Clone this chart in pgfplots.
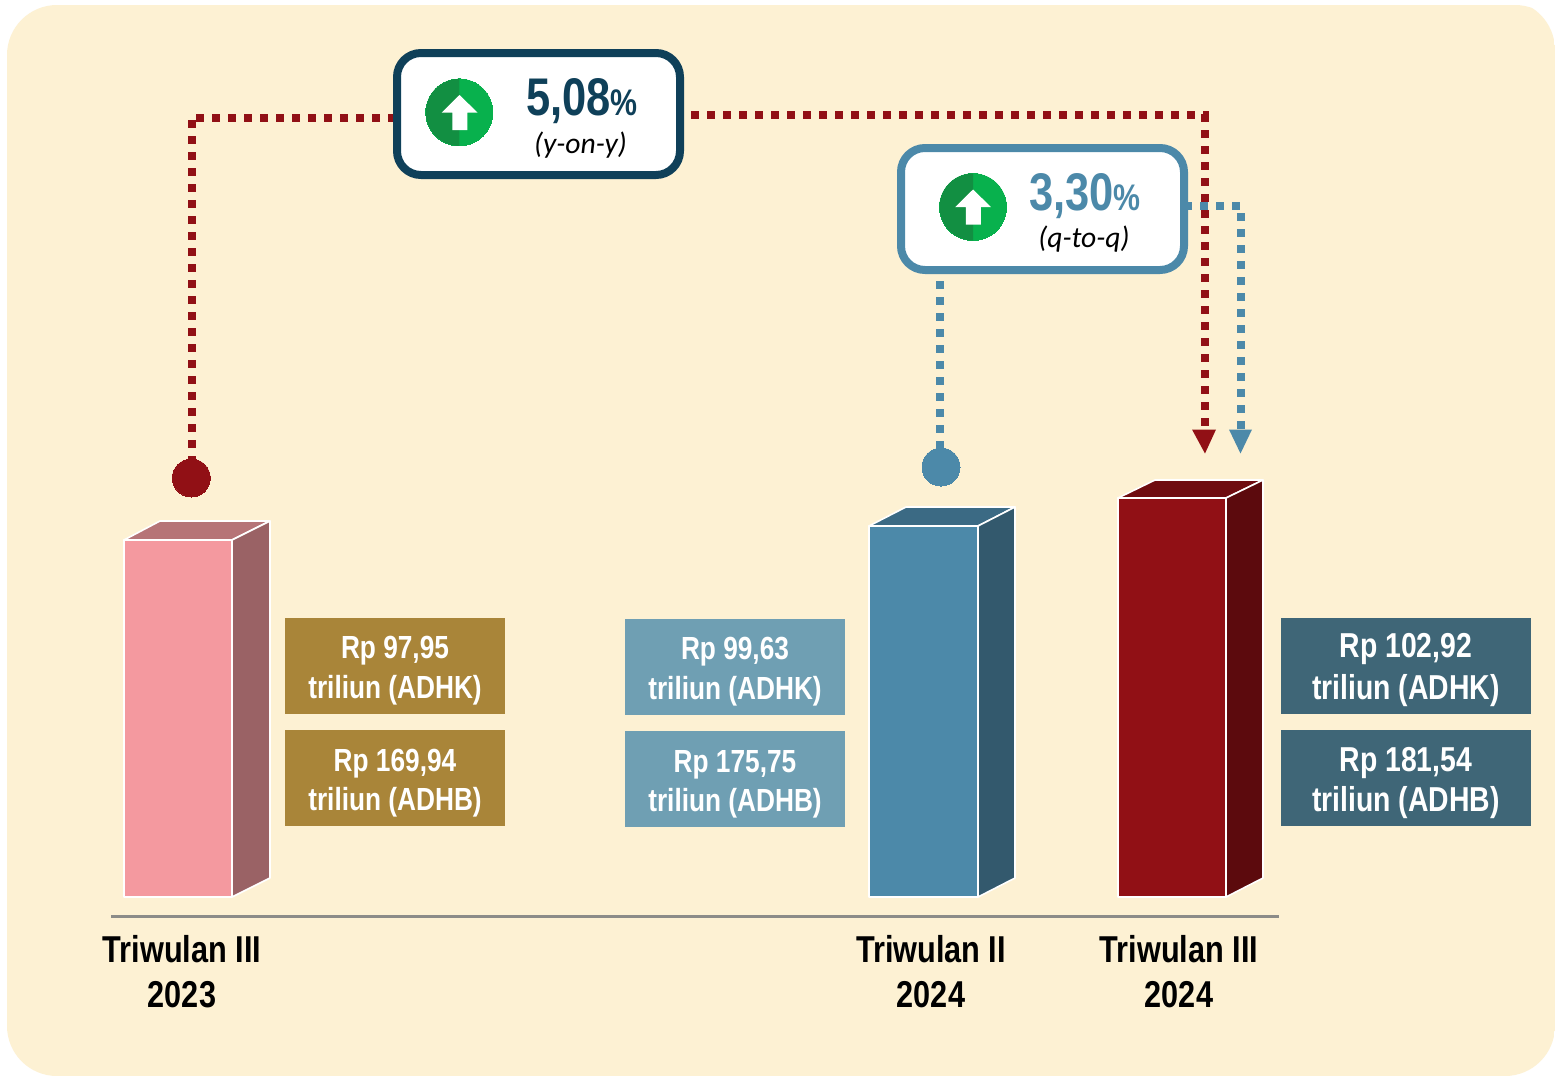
\documentclass[border=0pt]{standalone}
\usepackage{fontspec}
\usepackage{pgfplots}
\pgfplotsset{compat=1.18}
\setmainfont{Liberation Sans}
\newfontfamily\nar[FakeStretch=0.82]{Liberation Sans}
\newfontfamily\carl{Carlito}

\definecolor{panel}{HTML}{FDF1D3}
\definecolor{navy}{HTML}{0F4059}
\definecolor{steel}{HTML}{4C89A9}
\definecolor{maroon}{HTML}{911015}
\definecolor{gold}{HTML}{A98539}
\definecolor{lblue}{HTML}{6F9FB3}
\definecolor{dblue}{HTML}{3F6677}
\definecolor{gdark}{HTML}{128F42}
\definecolor{glight}{HTML}{08B14D}

\newcommand{\rp}[1]{\nar\bfseries\fontsize{16}{16}\selectfont\color{white}#1}
\newcommand{\rpb}[1]{\nar\bfseries\fontsize{17.3}{17.3}\selectfont\color{white}#1}
\newcommand{\lab}[1]{\nar\bfseries\fontsize{18.7}{18.7}\selectfont\color{black}#1}
\newcommand{\bigval}[3]{\nar\bfseries\color{#1}\fontsize{26.5}{26.5}\selectfont #2{\fontsize{18.5}{18.5}\selectfont #3}}
\newcommand{\subt}[1]{\carl\itshape\fontsize{14.8}{14.8}\selectfont\color{black}#1}

\pgfplotsset{
  dots/.style={line width=4pt, dash pattern=on 4pt off 4pt, line join=miter},
  face/.style={draw=white, line width=0.8pt, line join=round},
  box/.style={fill=#1, draw=none},
  dotend/.style={only marks, mark=*, mark size=9.5pt, mark options={fill=#1, draw=#1, line width=0pt}},
  disc/.style={only marks, mark=*, mark size=16.75pt, mark options={fill=glight, draw=glight, line width=0pt}},
  halfdisc/.style={only marks, mark=halfcircle*, mark size=16.75pt, mark color=gdark, mark options={rotate=270, fill=glight, draw opacity=0, line width=0pt}},
}

\begin{document}
\begin{tikzpicture}
\begin{axis}[
    hide axis,
    scale only axis,
    width=777.5pt, height=538pt,
    xmin=0, xmax=1555,
    ymin=0, ymax=1076,
    y dir=reverse,
    clip mode=individual,
  ]
  % page and panel
  \addplot[fill=white, draw=none] coordinates {(0,0)(1555,0)(1555,1076)(0,1076)} -- cycle;
  \addplot[fill=panel, draw=none, rounded corners=25pt] coordinates {(700,5)(1565,5)(1565,1076)(7,1076)(7,5)} -- cycle;

  % baseline
  \addplot[draw={rgb,255:red,140;green,140;blue,136}, line width=1.5pt] coordinates {(111,916.5)(1279,916.5)};

  % Triwulan III 2023
  \addplot[face, fill={rgb,255:red,182;green,116;blue,119}] coordinates {(124,540)(160,521)(270,521)(232,540)} -- cycle;
  \addplot[face, fill={rgb,255:red,154;green,98;blue,101}] coordinates {(232,540)(270,521)(270,878)(232,897)} -- cycle;
  \addplot[face, fill={rgb,255:red,244;green,153;blue,159}] coordinates {(124,540)(232,540)(232,897)(124,897)} -- cycle;

  % Triwulan II 2024
  \addplot[face, fill={rgb,255:red,59;green,106;blue,132}] coordinates {(869,526)(906,507)(1015,507)(978,526)} -- cycle;
  \addplot[face, fill={rgb,255:red,51;green,89;blue,109}] coordinates {(978,526)(1015,507)(1015,878)(978,897)} -- cycle;
  \addplot[face, fill=steel] coordinates {(869,526)(978,526)(978,897)(869,897)} -- cycle;

  % Triwulan III 2024
  \addplot[face, fill={rgb,255:red,111;green,12;blue,16}] coordinates {(1118,498)(1155,480)(1263,480)(1226,498)} -- cycle;
  \addplot[face, fill={rgb,255:red,92;green,10;blue,13}] coordinates {(1226,498)(1263,480)(1263,878)(1226,897)} -- cycle;
  \addplot[face, fill=maroon] coordinates {(1118,498)(1226,498)(1226,897)(1118,897)} -- cycle;

  % value boxes
  \addplot[box=gold] coordinates {(285,618)(505,618)(505,714)(285,714)} -- cycle;
  \addplot[box=gold] coordinates {(285,730)(505,730)(505,826)(285,826)} -- cycle;
  \addplot[box=lblue] coordinates {(625,619)(845,619)(845,715)(625,715)} -- cycle;
  \addplot[box=lblue] coordinates {(625,731)(845,731)(845,827)(625,827)} -- cycle;
  \addplot[box=dblue] coordinates {(1281,618)(1531,618)(1531,714)(1281,714)} -- cycle;
  \addplot[box=dblue] coordinates {(1281,730)(1531,730)(1531,826)(1281,826)} -- cycle;

  % connectors, red under blue
  \addplot[dots, draw=maroon] coordinates {(191.7,120)(191.7,464)};
  \addplot[dots, draw=maroon] coordinates {(196,117.7)(395,117.7)};
  \addplot[dots, draw=maroon] coordinates {(691,115)(1208.5,115)};
  \addplot[dots, draw=maroon] coordinates {(1204.5,114)(1204.5,428)};
  \addplot[dots, draw=steel] coordinates {(1184,206)(1240,206)};
  \addplot[dots, draw=steel] coordinates {(1240.5,213)(1240.5,430)};
  \addplot[dots, draw=steel] coordinates {(940,281)(940,452)};

  % ends of the connectors
  \addplot[dotend=maroon] coordinates {(191.3,478)};
  \addplot[dotend=steel] coordinates {(941,467)};
  \addplot[fill=maroon, draw=none] coordinates {(1192,429.5)(1216,429.5)(1205,453.5)} -- cycle;
  \addplot[fill=steel, draw=none] coordinates {(1229,429.5)(1252,429.5)(1240.5,453.5)} -- cycle;

  % callouts
  \addplot[fill=white, draw=navy, line width=4pt, rounded corners=12pt] coordinates {(540,53)(680,53)(680,175)(397,175)(397,53)} -- cycle;
  \addplot[fill=white, draw=steel, line width=4pt, rounded corners=12pt] coordinates {(1040,148)(1184,148)(1184,270)(901,270)(901,148)} -- cycle;

  % up arrows
  \addplot[disc] coordinates {(459.3,112.4)};
  \addplot[halfdisc] coordinates {(459.3,112.4)};
  \addplot[fill=white, draw=none] coordinates {(459.5,95)(477.7,112.7)(467.3,112.7)(467.3,130)(452.3,130)(452.3,112.7)(441.7,112.7)} -- cycle;
  \addplot[disc] coordinates {(973,207)};
  \addplot[halfdisc] coordinates {(973,207)};
  \addplot[fill=white, draw=none] coordinates {(973,189.5)(991.2,207.2)(980.8,207.2)(980.8,224.5)(965.8,224.5)(965.8,207.2)(955.2,207.2)} -- cycle;

  % callout text
  \node[anchor=base west, inner sep=0pt] at (axis cs:526,115) {\bigval{navy}{5,08}{\%}};
  \node[anchor=base, inner sep=0pt] at (axis cs:580.5,153) {\subt{(y-on-y)}};
  \node[anchor=base west, inner sep=0pt] at (axis cs:1029,210) {\bigval{steel}{3,30}{\%}};
  \node[anchor=base, inner sep=0pt] at (axis cs:1084,247) {\subt{(q-to-q)}};

  % value text
  \node[anchor=base, inner sep=0pt] at (axis cs:395,658) {\rp{Rp 97,95}};
  \node[anchor=base, inner sep=0pt] at (axis cs:395,698) {\rp{triliun (ADHK)}};
  \node[anchor=base, inner sep=0pt] at (axis cs:395,771) {\rp{Rp 169,94}};
  \node[anchor=base, inner sep=0pt] at (axis cs:395,810) {\rp{triliun (ADHB)}};
  \node[anchor=base, inner sep=0pt] at (axis cs:735,659) {\rp{Rp 99,63}};
  \node[anchor=base, inner sep=0pt] at (axis cs:735,699) {\rp{triliun (ADHK)}};
  \node[anchor=base, inner sep=0pt] at (axis cs:735,772) {\rp{Rp 175,75}};
  \node[anchor=base, inner sep=0pt] at (axis cs:735,811) {\rp{triliun (ADHB)}};
  \node[anchor=base, inner sep=0pt] at (axis cs:1406,657) {\rpb{Rp 102,92}};
  \node[anchor=base, inner sep=0pt] at (axis cs:1406,699) {\rpb{triliun (ADHK)}};
  \node[anchor=base, inner sep=0pt] at (axis cs:1406,771) {\rpb{Rp 181,54}};
  \node[anchor=base, inner sep=0pt] at (axis cs:1406,811) {\rpb{triliun (ADHB)}};

  % category labels
  \node[anchor=base, inner sep=0pt] at (axis cs:182,962) {\lab{Triwulan III}};
  \node[anchor=base, inner sep=0pt] at (axis cs:182,1007) {\lab{2023}};
  \node[anchor=base, inner sep=0pt] at (axis cs:931,962) {\lab{Triwulan II}};
  \node[anchor=base, inner sep=0pt] at (axis cs:931,1007) {\lab{2024}};
  \node[anchor=base, inner sep=0pt] at (axis cs:1179,962) {\lab{Triwulan III}};
  \node[anchor=base, inner sep=0pt] at (axis cs:1179,1007) {\lab{2024}};
\end{axis}
\end{tikzpicture}
\end{document}
